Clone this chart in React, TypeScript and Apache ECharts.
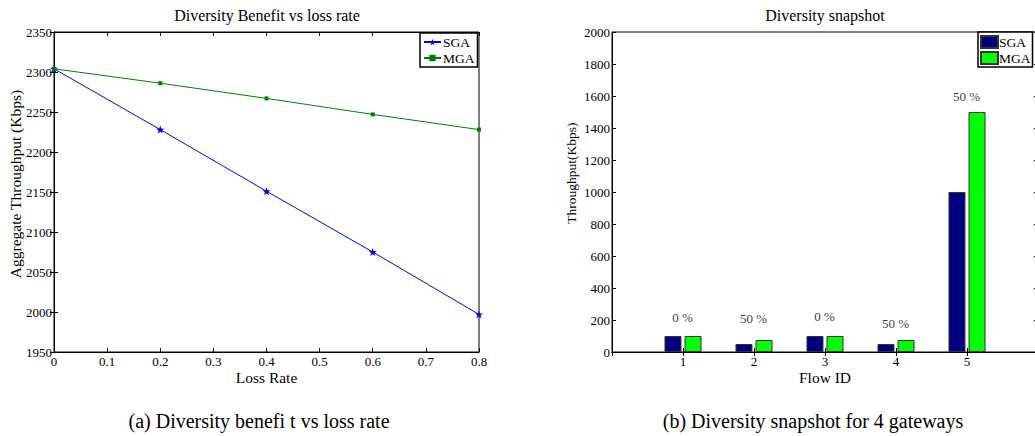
import React, { useEffect, useRef } from 'react';
import * as echarts from 'echarts';

const lossRates = [0, 0.2, 0.4, 0.6, 0.8];
const sgaThroughput = [2304, 2228, 2151, 2075, 1997];
const mgaThroughput = [2304, 2286, 2267, 2247, 2228];

const flowIds = ['', '1', '2', '3', '4', '5', ''];
const sgaFlow: (number | string)[] = ['-', 100, 50, 100, 50, 1000, '-'];
const mgaFlow: (number | string)[] = ['-', 100, 75, 100, 75, 1500, '-'];
const pctLabels = ['0 %', '50 %', '0 %', '50 %', '50 %'];
const pctLabelValues = [212, 204, 219, 173, 1596];

const FONT = 'Liberation Serif';
const STAR =
  'path://M0,-10 L2.35,-3.24 9.51,-3.09 3.8,1.24 5.88,8.09 0,4 -5.88,8.09 -3.8,1.24 -9.51,-3.09 -2.35,-3.24Z';

const tickStyle = { show: true, inside: true, length: 4, lineStyle: { color: '#000', width: 1 } };
const lineStyle = { show: true, lineStyle: { color: '#000', width: 1 } };
const labelStyle = { color: '#000', fontFamily: FONT, fontSize: 13, formatter: (v: any) => String(v) };
const nameStyle = (size: number, extra: any = {}) => ({ color: '#000', fontFamily: FONT, fontSize: size, ...extra });

function leftOption(): any {
  return {
    animation: false,
    backgroundColor: '#fff',
    grid: {
      left: 54, top: 32, width: 425, height: 320, show: true, borderColor: '#000', borderWidth: 1,
      outerBoundsMode: 'none', containLabel: false,
    },
    xAxis: [
      {
        type: 'value', min: 0, max: 0.8, interval: 0.1, position: 'bottom',
        axisLine: lineStyle, axisTick: tickStyle,
        axisLabel: { ...labelStyle, margin: 3 },
        splitLine: { show: false },
        name: 'Loss Rate', nameLocation: 'middle', nameGap: 17, nameMoveOverlap: false,
        nameTextStyle: nameStyle(15.5),
      },
      {
        type: 'value', min: 0, max: 0.8, interval: 0.1, position: 'top',
        axisLine: lineStyle, axisTick: tickStyle, axisLabel: { show: false }, splitLine: { show: false },
      },
    ],
    yAxis: [
      {
        type: 'value', min: 1950, max: 2350, interval: 50, position: 'left',
        axisLine: lineStyle, axisTick: tickStyle,
        axisLabel: { ...labelStyle, margin: 2 },
        splitLine: { show: false },
        name: 'Aggregate Throughput (Kbps)', nameLocation: 'middle', nameGap: 31, nameMoveOverlap: false,
        nameTextStyle: nameStyle(15.5, { padding: [0, 0, 0, 16] }),
      },
      {
        type: 'value', min: 1950, max: 2350, interval: 50, position: 'right',
        axisLine: lineStyle, axisTick: tickStyle, axisLabel: { show: false }, splitLine: { show: false },
      },
    ],
    legend: {
      data: ['SGA', 'MGA'], orient: 'vertical', left: 420, top: 33,
      backgroundColor: '#fff', borderColor: '#000', borderWidth: 1.5,
      padding: [2, 3, 2, 3], itemGap: 2, itemWidth: 17, itemHeight: 8,
      textStyle: { color: '#000', fontFamily: FONT, fontSize: 13.5, padding: [0, 0, 0, -3] },
    },
    series: [
      {
        name: 'SGA', type: 'line', xAxisIndex: 0, yAxisIndex: 0,
        data: lossRates.map((x, i) => [x, sgaThroughput[i]]),
        symbol: STAR, symbolSize: 8,
        lineStyle: { color: '#0000ff', width: 1 }, itemStyle: { color: '#0000ff' },
      },
      {
        name: 'MGA', type: 'line', xAxisIndex: 0, yAxisIndex: 0,
        data: lossRates.map((x, i) => [x, mgaThroughput[i]]),
        symbol: 'rect', symbolSize: 4,
        lineStyle: { color: '#008000', width: 1 }, itemStyle: { color: '#008000' },
      },
    ],
    graphic: [
      {
        type: 'text', x: 267, y: 15,
        style: { text: 'Diversity Benefit vs loss rate', fontFamily: FONT, fontSize: 16, fill: '#000', align: 'center', verticalAlign: 'middle' },
      },
      {
        type: 'text', x: 259, y: 421,
        style: { text: '(a) Diversity benefi t vs loss rate', fontFamily: FONT, fontSize: 20, fill: '#000', align: 'center', verticalAlign: 'middle' },
      },
    ],
  };
}

function rightOption(): any {
  return {
    animation: false,
    backgroundColor: '#fff',
    grid: {
      left: 92, top: 32, width: 426, height: 320, show: true, borderColor: '#000', borderWidth: 1,
      outerBoundsMode: 'none', containLabel: false,
    },
    xAxis: [
      {
        type: 'category', data: flowIds, boundaryGap: false, position: 'bottom',
        axisLine: lineStyle, axisTick: { ...tickStyle, interval: 0 },
        axisLabel: { ...labelStyle, margin: 3, interval: 0 },
        splitLine: { show: false },
        name: 'Flow ID', nameLocation: 'middle', nameGap: 17, nameMoveOverlap: false,
        nameTextStyle: nameStyle(15.5),
      },
      {
        type: 'category', data: flowIds, boundaryGap: false, position: 'top',
        axisLine: lineStyle, axisTick: { ...tickStyle, interval: 0 }, axisLabel: { show: false }, splitLine: { show: false },
      },
    ],
    yAxis: [
      {
        type: 'value', min: 0, max: 2000, interval: 200, position: 'left',
        axisLine: lineStyle, axisTick: tickStyle,
        axisLabel: { ...labelStyle, margin: 2 },
        splitLine: { show: false },
        name: 'Throughput(Kbps)', nameLocation: 'middle', nameGap: 34, nameMoveOverlap: false,
        nameTextStyle: nameStyle(13.5, { padding: [0, 0, 0, 38] }),
      },
      {
        type: 'value', min: 0, max: 2000, interval: 200, position: 'right',
        axisLine: lineStyle, axisTick: tickStyle, axisLabel: { show: false }, splitLine: { show: false },
      },
    ],
    legend: {
      data: ['SGA', 'MGA'], orient: 'vertical', left: 458, top: 32,
      backgroundColor: '#fff', borderColor: '#000', borderWidth: 1.5,
      padding: [3, 2, 2, 2], itemGap: 2, itemWidth: 17, itemHeight: 12, icon: 'rect',
      textStyle: { color: '#000', fontFamily: FONT, fontSize: 13.5, padding: [0, 0, 0, -4] },
    },
    series: [
      {
        name: 'SGA', type: 'bar', xAxisIndex: 0, yAxisIndex: 0, data: sgaFlow,
        barWidth: 17, barGap: '18%',
        itemStyle: { color: '#000080', borderColor: '#333', borderWidth: 1 },
      },
      {
        name: 'MGA', type: 'bar', xAxisIndex: 0, yAxisIndex: 0, data: mgaFlow,
        barWidth: 17, barGap: '18%',
        itemStyle: { color: '#00ff00', borderColor: '#333', borderWidth: 1 },
      },
      {
        name: 'pct', type: 'scatter', xAxisIndex: 0, yAxisIndex: 0,
        data: pctLabelValues.map((v, i) => [i + 1, v]),
        symbolSize: 1, itemStyle: { color: 'rgba(0,0,0,0)' },
        label: {
          show: true, position: [0, 0], align: 'center', verticalAlign: 'middle',
          color: '#000', fontFamily: FONT, fontSize: 13,
          textBorderWidth: 0,
          formatter: (p: any) => pctLabels[p.dataIndex],
        },
      },
    ],
    graphic: [
      {
        type: 'text', x: 305, y: 15,
        style: { text: 'Diversity snapshot', fontFamily: FONT, fontSize: 16, fill: '#000', align: 'center', verticalAlign: 'middle' },
      },
      {
        type: 'text', x: 293, y: 421,
        style: { text: '(b) Diversity snapshot for 4 gateways', fontFamily: FONT, fontSize: 20, fill: '#000', align: 'center', verticalAlign: 'middle' },
      },
    ],
  };
}

function Chart({ option, style }: { option: any; style: React.CSSProperties }) {
  const ref = useRef<HTMLDivElement>(null);
  useEffect(() => {
    const chart = echarts.init(ref.current!, undefined, { renderer: 'svg' });
    chart.setOption(option);
    return () => chart.dispose();
  }, []);
  return <div ref={ref} style={style} />;
}

export default function App() {
  return (
    <div style={{ position: 'fixed', left: 0, top: 0, width: 1035, height: 436, background: '#fff', overflow: 'hidden' }}>
      <Chart option={leftOption()} style={{ position: 'absolute', left: 0, top: 0, width: 520, height: 436 }} />
      <Chart option={rightOption()} style={{ position: 'absolute', left: 520, top: 0, width: 515, height: 436 }} />
    </div>
  );
}
